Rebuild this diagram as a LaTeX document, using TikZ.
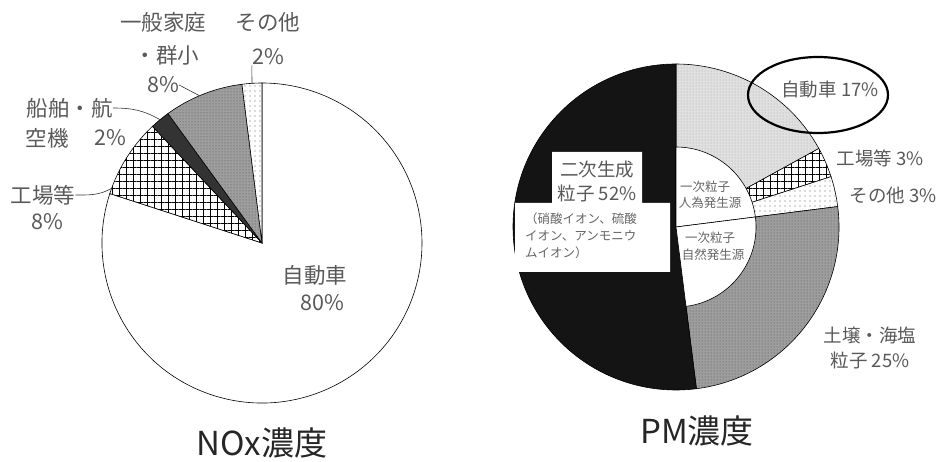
\documentclass[tikz,border=0pt]{standalone}
\usepackage{fontspec}
\setmainfont{Noto Sans CJK JP}
\usepackage{tikz}
\usetikzlibrary{calc,patterns,patterns.meta}

\begin{document}
\begin{tikzpicture}[x=1pt,y=1pt]
\tikzstyle{sl}=[draw=black, line width=0.6pt]
\tikzstyle{lbl}=[text=black!65, font=\fontsize{21.5}{23}\selectfont, inner sep=0pt]
\tikzstyle{plbl}=[text=black!65, font=\fontsize{18.5}{20}\selectfont, inner sep=0pt]
\tikzstyle{tiny}=[text=black!60, font=\fontsize{12.5}{17}\selectfont, inner sep=0pt]
\tikzstyle{ttl}=[text=black!85, font=\fontsize{33}{36}\selectfont, inner sep=0pt]
\tikzstyle{lead}=[draw=black!80, line width=0.6pt]
\tikzstyle{grd}=[preaction={fill=white}, pattern={Hatch[distance=7pt,angle=0,line width=0.7pt]}]
\tikzstyle{spdots}=[preaction={fill=white}, pattern={Dots[distance=5pt,radius=0.6pt]}, pattern color=black!60]
\tikzstyle{gdots}=[preaction={fill=black!38}, pattern={Dots[distance=3pt,radius=0.5pt]}, pattern color=black!70]
\tikzstyle{ldots}=[preaction={fill=black!12}, pattern={Dots[distance=3pt,radius=0.5pt]}, pattern color=black!35]
\useasboundingbox (0,0) rectangle (938,461);
\coordinate (nox) at (262,218);
\coordinate (pm) at (676,234);
% NOx
\draw[sl, fill=white] (nox) -- ++(162:160) arc[start angle=162,end angle=450,radius=160] -- cycle;
\draw[sl, grd] (nox) -- ++(133.2:160) arc[start angle=133.2,end angle=162,radius=160] -- cycle;
\draw[sl, fill=black!80] (nox) -- ++(126:160) arc[start angle=126,end angle=133.2,radius=160] -- cycle;
\draw[sl, gdots] (nox) -- ++(97.2:160) arc[start angle=97.2,end angle=126,radius=160] -- cycle;
\draw[sl, spdots] (nox) -- ++(90:160) arc[start angle=90,end angle=97.2,radius=160] -- cycle;
\node[lbl] (katei1) at (163,439) {一般家庭};
\node[lbl] (katei2) at (167,406) {・群小};
\node[lbl] (katei3) at (163,376) {8\%};
\node[lbl] (sono1) at (268,439) {その他};
\node[lbl] (sono2) at (268,404) {2\%};
\node[lbl] (sen1) at (70,353) {船舶・航};
\node[lbl] (sen2) at (47,323) {空機};
\node[lbl] (sen3) at (110,323) {2\%};
\node[lbl] (kojo1) at (43,266) {工場等};
\node[lbl] (kojo2) at (47,239) {8\%};
\node[lbl] (car1) at (315,186) {自動車};
\node[lbl] (car2) at (322,158) {80\%};
\coordinate (psono) at ($(nox)+(93.6:160)$);
\coordinate (pkatei) at ($(nox)+(113:160)$);
\coordinate (psen) at ($(nox)+(129.6:160)$);
\coordinate (pkojo) at ($(nox)+(160:160)$);
\draw[lead] (sono2.south west) -- (psono);
\draw[lead] (katei3.east) -- (pkatei);
\draw[lead] (sen1.east) to[out=0,in=150] (psen);
\draw[lead] (kojo1.east) to[out=0,in=-150] (pkojo);
\node[ttl] (noxttl) at (262,18) {NOx濃度};
% PM
\draw[sl, ldots] (pm) -- ++(28.8:163) arc[start angle=28.8,end angle=90,radius=163] -- cycle;
\draw[sl, grd] (pm) -- ++(18:163) arc[start angle=18,end angle=28.8,radius=163] -- cycle;
\draw[sl, spdots] (pm) -- ++(7.2:163) arc[start angle=7.2,end angle=18,radius=163] -- cycle;
\draw[sl, gdots] (pm) -- ++(-82.8:163) arc[start angle=-82.8,end angle=7.2,radius=163] -- cycle;
\draw[sl, fill=black!92] (pm) -- ++(90:163) arc[start angle=90,end angle=277.2,radius=163] -- cycle;
\draw[sl, fill=white] (pm) -- ++(7.2:80) arc[start angle=7.2,end angle=90,radius=80] -- cycle;
\draw[sl, fill=white] (pm) -- ++(-82.8:80) arc[start angle=-82.8,end angle=7.2,radius=80] -- cycle;
\fill[white] (552,309) -- (642,309) -- (642,258) -- (670,258) -- (670,189) -- (515,189) -- (515,258) -- (552,258) -- cycle;
\node[plbl] (niji1) at (597,291) {二次生成};
\node[plbl] (niji2) at (597,268) {粒子 52\%};
\node[tiny, anchor=north west, align=left] (ion) at (525,248) {（硝酸イオン、硫酸\\イオン、アンモニウ\\ムイオン）};
\node[tiny] (jin1) at (705,274) {一次粒子};
\node[tiny] (jin2) at (710,258) {人為発生源};
\node[tiny] (shi1) at (710,223) {一次粒子};
\node[tiny] (shi2) at (713,206) {自然発生源};
\node[plbl] (pcar) at (830,371) {自動車 17\%};
\node[plbl] (pkojo) at (880,303) {工場等 3\%};
\node[plbl] (psono) at (893,266) {その他 3\%};
\node[plbl] (pdo1) at (870,126) {土壌・海塩};
\node[plbl] (pdo2) at (870,101) {粒子 25\%};
\draw[line width=2.2pt] (818,366) ellipse[x radius=70,y radius=38];
\node[ttl] (pmttl) at (697,30) {PM濃度};
\end{tikzpicture}
\end{document}
